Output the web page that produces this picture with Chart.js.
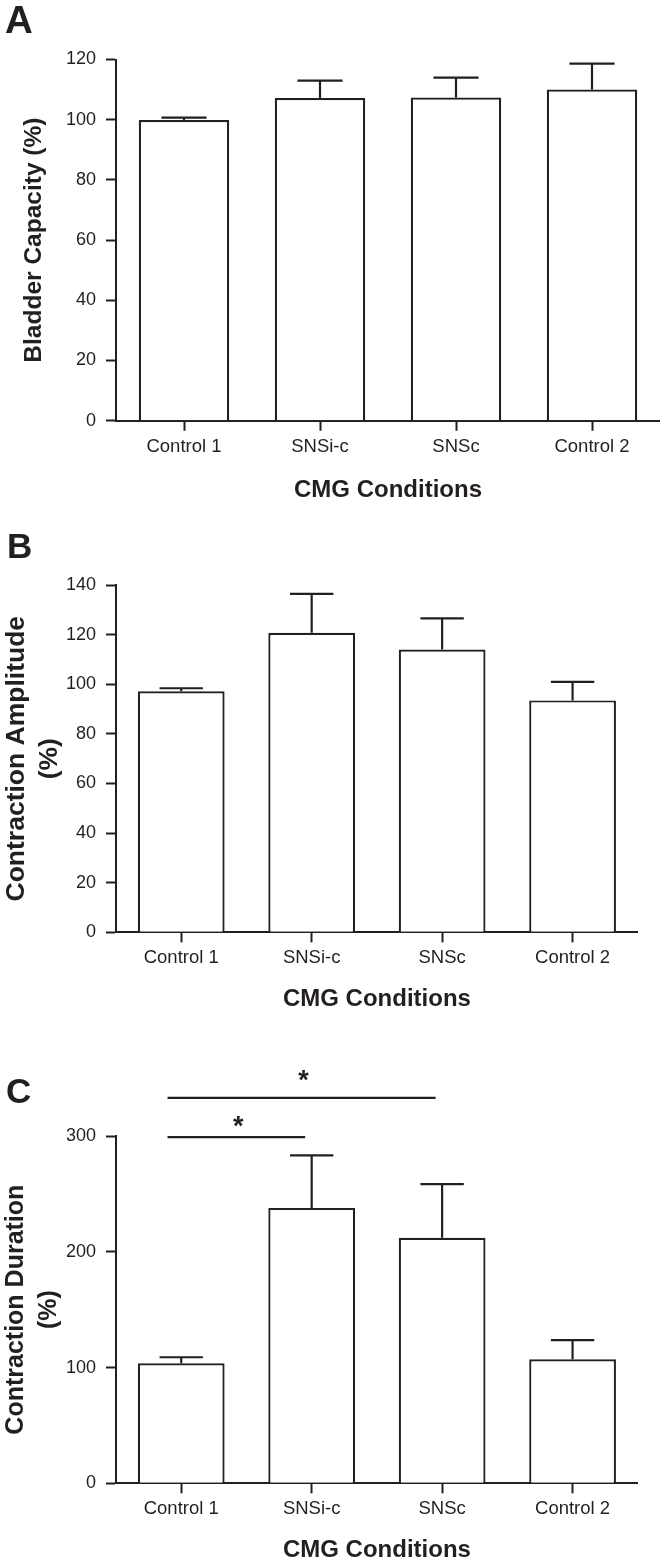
<!DOCTYPE html>
<html>
<head>
<meta charset="utf-8">
<script src="https://cdn.jsdelivr.net/npm/chart.js@4.4.0/dist/chart.umd.min.js"></script>
<style>
  html, body { margin: 0; padding: 0; background: #fff; }
  #page { position: relative; width: 660px; height: 1567px; overflow: hidden; }
  canvas { position: absolute; left: 0; }
</style>
</head>
<body>
<div id="page">
  <canvas id="panelA" width="660" height="515" style="top:0px"></canvas>
  <canvas id="panelB" width="660" height="520" style="top:515px"></canvas>
  <canvas id="panelC" width="660" height="532" style="top:1035px"></canvas>
</div>
<script>
'use strict';

var conditions = ['Control 1', 'SNSi-c', 'SNSc', 'Control 2'];

// A - bladder capacity
var capacityMean = [99.9, 107.2, 107.4, 110.0];
var capacitySem = [0.8, 5.8, 6.6, 8.6];
var capacityTicks = [0, 20, 40, 60, 80, 100, 120];

// B - contraction amplitude
var amplitudeMean = [97.2, 120.8, 114.0, 93.5];
var amplitudeSem = [1.2, 15.7, 12.6, 7.5];
var amplitudeTicks = [0, 20, 40, 60, 80, 100, 120, 140];

// C - contraction duration
var durationMean = [103.7, 237.9, 212.0, 107.2];
var durationSem = [5.2, 45.3, 46.4, 16.4];
var durationTicks = [0, 100, 200, 300];

// significance bars in C (category from/to, bar level, star level)
var sigFrom = [0, 0];
var sigTo = [1, 2];
var sigLevel = [299, 333];
var sigStarLevel = [312, 351];

var ink = '#231f20';
var family = "'Liberation Sans', Arial, Helvetica, sans-serif";
Chart.defaults.font.family = family;
Chart.defaults.color = ink;

// SEM whiskers, upwards only, cap half as wide as the bar
var errorBars = {
  id: 'errorBars',
  afterDatasetsDraw: function(chart) {
    var ds = chart.data.datasets[0];
    var y = chart.scales.y;
    var ctx = chart.ctx;
    ctx.save();
    ctx.strokeStyle = ink;
    ctx.lineWidth = 2.2;
    chart.getDatasetMeta(0).data.forEach(function(bar, i) {
      var top = y.getPixelForValue(ds.data[i] + ds.sem[i]);
      var half = bar.width / 4;
      ctx.beginPath();
      ctx.moveTo(bar.x, bar.y);
      ctx.lineTo(bar.x, top);
      ctx.moveTo(bar.x - half, top);
      ctx.lineTo(bar.x + half, top);
      ctx.stroke();
    });
    ctx.restore();
  }
};

var panelLetter = {
  id: 'panelLetter',
  afterDraw: function(chart, args, opts) {
    var ctx = chart.ctx;
    ctx.save();
    ctx.fillStyle = ink;
    ctx.font = 'bold ' + opts.size + 'px ' + family;
    ctx.textBaseline = 'alphabetic';
    ctx.fillText(opts.text, opts.x, opts.y);
    ctx.restore();
  }
};

var sigBars = {
  id: 'sigBars',
  afterDraw: function(chart) {
    if (!chart.options.plugins.sigBars.show) return;
    var x = chart.scales.x, y = chart.scales.y;
    var step = x.getPixelForValue(1) - x.getPixelForValue(0);
    var ctx = chart.ctx;
    ctx.save();
    ctx.strokeStyle = ink;
    ctx.fillStyle = ink;
    ctx.lineWidth = 2.2;
    ctx.font = 'bold 27px ' + family;
    ctx.textAlign = 'center';
    ctx.textBaseline = 'middle';
    for (var i = 0; i < sigFrom.length; i++) {
      var x1 = x.getPixelForValue(sigFrom[i]) - 0.105 * step;
      var x2 = x.getPixelForValue(sigTo[i]) - 0.05 * step;
      var ly = y.getPixelForValue(sigLevel[i]);
      ctx.beginPath();
      ctx.moveTo(x1, ly);
      ctx.lineTo(x2, ly);
      ctx.stroke();
      ctx.fillText('*', (x1 + x2) / 2 + 2, y.getPixelForValue(sigStarLevel[i]) + 5);
    }
    ctx.restore();
  }
};

function makePanel(id, cfg) {
  return new Chart(document.getElementById(id), {
    type: 'bar',
    data: {
      labels: conditions,
      datasets: [{
        data: cfg.mean,
        sem: cfg.sem,
        backgroundColor: '#ffffff',
        borderColor: ink,
        borderWidth: 2.2,
        borderSkipped: 'bottom',
        barPercentage: 0.665,
        categoryPercentage: 1
      }]
    },
    options: {
      responsive: false,
      animation: false,
      layout: { padding: cfg.padding },
      plugins: {
        legend: { display: false },
        tooltip: { enabled: false },
        panelLetter: cfg.letter,
        sigBars: { show: !!cfg.sig }
      },
      scales: {
        x: {
          offset: true,
          grid: { display: true, offset: false, drawOnChartArea: false, drawTicks: true,
                  tickLength: 10, tickWidth: 2, tickColor: ink },
          border: { display: true, width: 2, color: ink },
          ticks: { font: { size: 18.5 }, color: ink, padding: 5, maxRotation: 0 },
          title: { display: true, text: 'CMG Conditions', color: ink,
                   font: { size: 24, weight: 'bold', lineHeight: 1.2 },
                   padding: { top: 0, bottom: 0 } },
          afterFit: function(scale) { scale.height = cfg.xHeight; }
        },
        y: {
          min: cfg.ticks[0],
          max: cfg.ticks[cfg.ticks.length - 1],
          afterBuildTicks: function(scale) {
            scale.ticks = cfg.ticks.map(function(v) { return { value: v }; });
          },
          grid: { display: true, drawOnChartArea: false, drawTicks: true,
                  tickLength: 10, tickWidth: 2, tickColor: ink },
          border: { display: true, width: 2, color: ink },
          ticks: { font: { size: 18 }, color: ink, padding: 10 },
          title: { display: true, text: cfg.yTitle, color: ink,
                   font: { size: cfg.yTitleSize, weight: 'bold', lineHeight: cfg.yLine },
                   padding: { top: cfg.yPad, bottom: 0 } },
          afterFit: function(scale) { scale.width = 116; }
        }
      }
    },
    plugins: [errorBars, panelLetter, sigBars]
  });
}

makePanel('panelA', {
  mean: capacityMean, sem: capacitySem, ticks: capacityTicks,
  yTitle: 'Bladder Capacity (%)', yTitleSize: 24.5, yLine: 1.2, yPad: 19.4,
  padding: { top: 59.5, right: 0, bottom: 10.6, left: 0 }, xHeight: 83.7,
  letter: { text: 'A', size: 38.5, x: 5, y: 33 }
});

makePanel('panelB', {
  mean: amplitudeMean, sem: amplitudeSem, ticks: amplitudeTicks,
  yTitle: ['Contraction Amplitude', '(%)'], yTitleSize: 26.5, yLine: '33px', yPad: 0,
  padding: { top: 70.1, right: 22.2, bottom: 21.6, left: 0 }, xHeight: 81.1,
  letter: { text: 'B', size: 35, x: 7, y: 43 }
});

makePanel('panelC', {
  mean: durationMean, sem: durationSem, ticks: durationTicks,
  yTitle: ['Contraction Duration', '(%)'], yTitleSize: 25, yLine: '33px', yPad: 0,
  padding: { top: 101, right: 22.2, bottom: 2.6, left: 0 }, xHeight: 81.1,
  letter: { text: 'C', size: 35, x: 6, y: 68 },
  sig: true
});
</script>
</body>
</html>
